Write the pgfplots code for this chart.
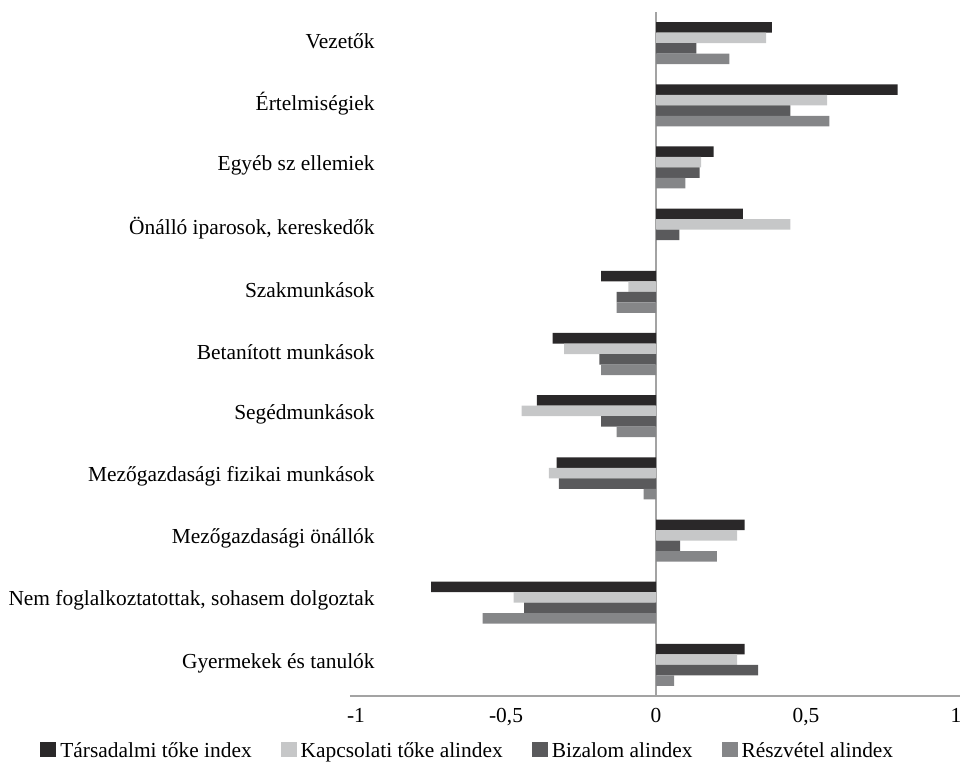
\documentclass[border=0pt]{standalone}
\usepackage{pgfplots}
\pgfplotsset{compat=1.18}
\usepackage{fontspec}
\setmainfont{Liberation Serif}

\definecolor{cTars}{HTML}{2A2829}
\definecolor{cKapcs}{HTML}{C6C7C8}
\definecolor{cBiz}{HTML}{5A5A5C}
\definecolor{cResz}{HTML}{858688}
\definecolor{cAxis}{HTML}{A3A3A3}

\begin{document}
\begin{tikzpicture}
  \useasboundingbox (-175pt,-33pt) rectangle (305pt,348pt);
  \begin{axis}[
      at={(0pt,0pt)}, anchor=south west,
      scale only axis,
      width=305pt, height=342pt,
      font=\fontsize{10.7pt}{12pt}\selectfont,
      xbar, bar width=5.25pt,
      xmin=-1.02, xmax=1.013,
      ymin=-0.5, ymax=10.5,
      axis x line*=bottom,
      axis y line*=left,
      x axis line style={cAxis, line width=1pt, -},
      y axis line style={draw=none},
      major tick length=0pt,
      xtick={-1,-0.5,0,0.5,1},
      xticklabels={\textrm{-1},\textrm{-0,5},\textrm{0},\textrm{0,5},\textrm{1}},
      xticklabel style={inner sep=0pt, yshift=-6pt},
      extra x ticks={0},
      extra x tick labels={},
      extra x tick style={grid=major, major grid style={cAxis, line width=1pt}},
      ytick={0,1,2,3,4,5,6,7,8,9,10},
      yticklabels={Gyermekek és tanulók,
        {Nem foglalkoztatottak, sohasem dolgoztak},
        Mezőgazdasági önállók,
        Mezőgazdasági fizikai munkások,
        Segédmunkások,
        Betanított munkások,
        Szakmunkások,
        {Önálló iparosok, kereskedők},
        Egyéb sz ellemiek,
        Értelmiségiek,
        Vezetők},
      yticklabel style={anchor=east, inner sep=0pt, xshift=12.5pt, yshift=1pt},
      legend columns=4,
      legend style={at={(-0.5082,-0.06725)}, anchor=north west,
        draw=none, fill=none, inner sep=0pt,
        nodes={inner sep=0pt, anchor=base west},
        /tikz/every odd column/.append style={column sep=2pt},
        /tikz/every even column/.append style={column sep=14.5pt}},
      legend image code/.code={\fill[#1] (0pt,0pt) rectangle (8pt,7.5pt);},
    ]
    \addplot[fill=cTars, draw=none, bar shift=7.875pt] coordinates {
      (0.386,10) (0.805,9) (0.192,8) (0.289,7) (-0.183,6) (-0.345,5)
      (-0.397,4) (-0.331,3) (0.295,2) (-0.750,1) (0.295,0)
    };
    \addplot[fill=cKapcs, draw=none, bar shift=2.625pt] coordinates {
      (0.367,10) (0.570,9) (0.150,8) (0.448,7) (-0.092,6) (-0.306,5)
      (-0.448,4) (-0.357,3) (0.270,2) (-0.475,1) (0.270,0)
    };
    \addplot[fill=cBiz, draw=none, bar shift=-2.625pt] coordinates {
      (0.134,10) (0.448,9) (0.145,8) (0.078,7) (-0.131,6) (-0.189,5)
      (-0.183,4) (-0.324,3) (0.080,2) (-0.440,1) (0.340,0)
    };
    \addplot[fill=cResz, draw=none, bar shift=-7.875pt] coordinates {
      (0.244,10) (0.578,9) (0.098,8) (0.000,7) (-0.131,6) (-0.183,5)
      (-0.131,4) (-0.041,3) (0.203,2) (-0.578,1) (0.060,0)
    };
    \legend{Társadalmi tőke index, Kapcsolati tőke alindex,
      Bizalom alindex, Részvétel alindex}
  \end{axis}
\end{tikzpicture}
\end{document}
